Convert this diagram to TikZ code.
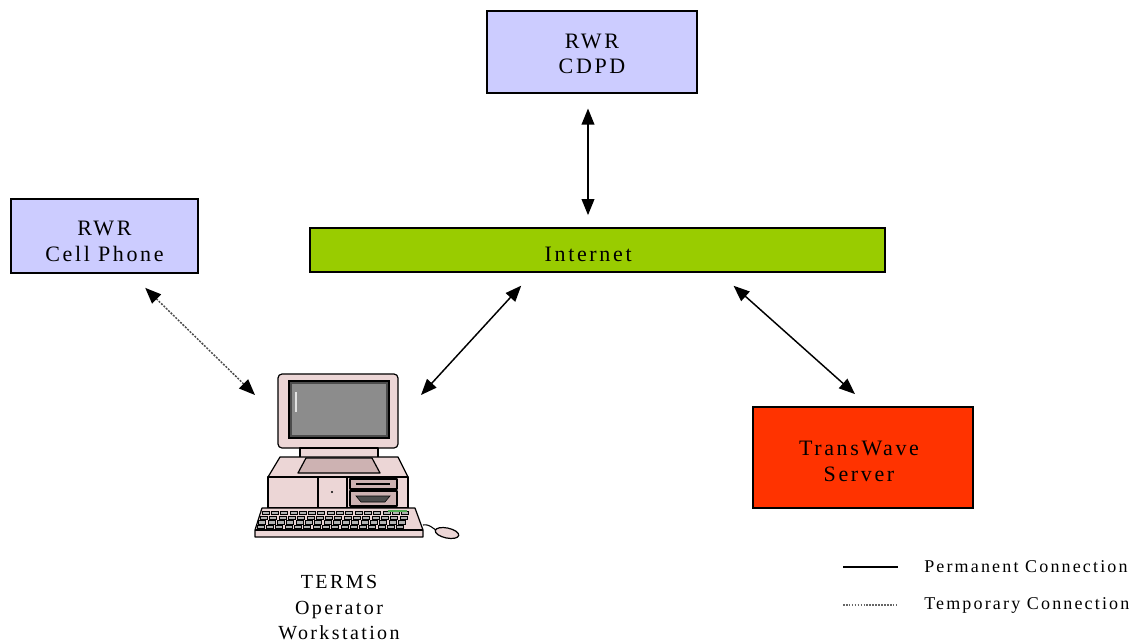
\documentclass[tikz,border=0pt]{standalone}
\usepackage{fontspec}
\setmainfont{Liberation Serif}[LetterSpace=12]
\usepackage{tikz}
\usetikzlibrary{arrows.meta,calc}
\definecolor{lilac}{RGB}{204,204,255}
\definecolor{netgreen}{RGB}{153,204,0}
\definecolor{srvred}{RGB}{255,51,0}
\definecolor{casepink}{RGB}{236,214,214}
\definecolor{caseshade}{RGB}{205,178,178}
\definecolor{screengray}{RGB}{140,140,140}
\newcommand{\boxtext}[2]{\raisebox{-#1}[\height][\depth]{\begin{tabular}{@{}c@{}}#2\end{tabular}}}

\begin{document}
\begin{tikzpicture}[x=0.75pt,y=-0.75pt,
	box/.style={draw=black,line width=1.3pt,align=center,inner sep=0pt,font=\fontsize{16.5}{19}\selectfont},
	link/.style={line width=1.1pt,{Triangle[length=12pt,width=9.5pt]}-{Triangle[length=12pt,width=9.5pt]}},
	templink/.style={line width=1.1pt,black!70,dash pattern=on 1.5pt off 1pt,
		{Triangle[length=12pt,width=9.5pt,color=black]}-{Triangle[length=12pt,width=9.5pt,color=black]}},
	part/.style={draw=black,line width=0.9pt,fill=casepink,line join=round}]
	\useasboundingbox (0,0) rectangle (1133,643);

	\node[box,fill=lilac,minimum width=158pt,minimum height=61.5pt] (cdpd) at (592,52) {\boxtext{3pt}{RWR\\CDPD}};
	\node[box,fill=lilac,minimum width=140pt,minimum height=55.5pt] (cell) at (104.5,236) {\boxtext{5.5pt}{RWR\\Cell Phone}};
	\node[box,fill=netgreen,minimum width=431pt,minimum height=33pt] (inet) at (597.5,250) {\hspace*{-14pt}\boxtext{5pt}{Internet}};
	\node[box,fill=srvred,minimum width=165pt,minimum height=76pt] (srv) at (863,457.5) {\hspace*{-6pt}\boxtext{4.5pt}{TransWave\\Server}};

	% workstation
	\draw[part,rounded corners=3pt] (278,374) rectangle (398,448);
	\draw[draw=black,line width=1pt,fill=black!70] (289,381) rectangle (389,438);
	\draw[fill=screengray,draw=none] (292,384) rectangle (386,435);
	\draw[white!75!screengray,line width=1.2pt] (296,392) -- (296,412);
	\draw[part] (300,448) rectangle (378,458);
	\draw[part] (280,457) -- (398,457) -- (408,477) -- (268,477) -- cycle;
	\draw[part,fill=caseshade] (306,458) -- (372,458) -- (380,473) -- (298,473) -- cycle;
	\draw[part] (268,477) rectangle (408,508);
	\draw[black,line width=0.8pt] (318,477) -- (318,508) (347,477) -- (347,508);
	\fill[black] (332,492) circle (1.2);
	\draw[part,fill=caseshade] (350,479) rectangle (397,489);
	\draw[black,line width=1pt] (356,484) -- (390,484);
	\draw[part,fill=caseshade] (350,491) rectangle (397,506);
	\draw[black,fill=black!70] (356,496) -- (390,496) -- (385,502) -- (361,502) -- cycle;
	\draw[part] (262,508) -- (415,508) -- (423,530) -- (423,537) -- (255,537) -- (255,530) -- cycle;
	\draw[black,line width=0.8pt] (255,530) -- (423,530);
	\foreach \r in {0,...,3}
		\foreach \k in {0,...,15}
			\draw[black,line width=0.6pt,fill=black!30] ({262+\k*9.3-\r*1.6},{511.5+\r*4.6}) rectangle ++(7,3.2);
	\fill[green!35!gray] (388,510) rectangle (407,511.5);
	\draw[black,line width=0.8pt] (423,525) .. controls (430,524) and (432,528) .. (436,530);
	\draw[part,rotate around={-12:(447,533)}] (447,533) ellipse (12 and 5);

	\coordinate (pc-l) at (255,395);
	\coordinate (pc-r) at (421,395);
	\node[align=center,font=\fontsize{15}{19}\selectfont,anchor=north] (pclabel) at (339,571) {TERMS\\Operator\\Workstation};

	\draw[link,shorten <=11pt,shorten >=9pt] ([xshift=-3pt]cdpd.south) -- ([xshift=-3pt]cdpd.south |- inet.north);
	\draw[link,shorten <=13pt] ($(inet.south west)!0.388!(inet.south east)$) -- (pc-r);
	\draw[link,shorten <=14.5pt,shorten >=13.4pt] ($(inet.south west)!0.711!(inet.south east)$) -- ($(srv.north west)!0.524!(srv.north east)$);
	\draw[templink,shorten <=15pt] ($(cell.south west)!0.64!(cell.south east)$) -- (pc-l);

	% legend
	\coordinate (perm-a) at (843,567);
	\coordinate (perm-b) at (898,567);
	\coordinate (temp-a) at (843,605);
	\coordinate (temp-b) at (898,605);
	\draw[line width=1.1pt] (perm-a) -- (perm-b);
	\draw[black!60,line width=1.1pt,dash pattern=on 1.2pt off 1pt] (temp-a) -- (temp-b);
	\node[anchor=west,inner sep=0pt,font=\fontsize{13.5}{16}\selectfont] (permtxt) at (924,567) {Permanent Connection};
	\node[anchor=west,inner sep=0pt,font=\fontsize{13.5}{16}\selectfont] (temptxt) at (924,605) {Temporary Connection};
\end{tikzpicture}
\end{document}
